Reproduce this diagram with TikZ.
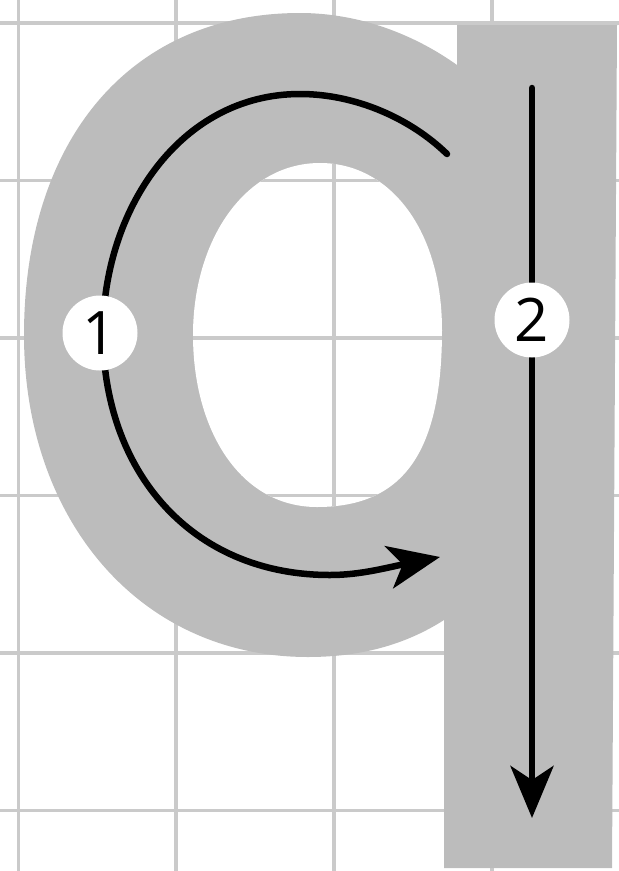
\documentclass[tikz,border=0pt]{standalone}
\usepackage{fontspec}
\setmainfont{Open Sans}
\usetikzlibrary{arrows.meta}
\definecolor{lettergray}{RGB}{188,188,188}
\definecolor{gridgray}{RGB}{202,202,202}
\begin{document}
\begin{tikzpicture}[x=1pt,y=-1pt,
  gridline/.style={draw=gridgray, line width=3.5pt},
  strokeline/.style={line width=6.5pt, black, line cap=round},
  num/.style={circle, fill=white, minimum size=75pt, inner sep=0pt, font=\fontsize{60}{60}\selectfont},
  tipped/.style={-{Stealth[length=52pt,width=43pt,inset=14pt]}}]
\useasboundingbox (0,0) rectangle (619,871);
% grid
\foreach \gx in {18.5,176,334,492} \draw[gridline] (\gx,0) -- (\gx,871);
\foreach \gy in {23,180.5,338,495.5,653,810.5} \draw[gridline] (0,\gy) -- (619,\gy);
% letter q
\fill[lettergray] (457,25) -- (617,25) -- (612,868) -- (444,868) -- (444,620)
  .. controls (405,645) and (360,657) .. (308,657)
  .. controls (140,657) and (24,520) .. (24,335)
  .. controls (24,140) and (130,13) .. (300,13)
  .. controls (360,13) and (415,35) .. (457,65) -- cycle;
\fill[white] (320,163) .. controls (390,163) and (442,230) .. (442,330)
  .. controls (442,450) and (405,507) .. (317,507)
  .. controls (240,507) and (193,430) .. (193,335)
  .. controls (193,240) and (245,163) .. (320,163) -- cycle;
\begin{scope}
\clip (320,163) .. controls (390,163) and (442,230) .. (442,330)
  .. controls (442,450) and (405,507) .. (317,507)
  .. controls (240,507) and (193,430) .. (193,335)
  .. controls (193,240) and (245,163) .. (320,163) -- cycle;
\foreach \gx in {18.5,176,334,492} \draw[gridline] (\gx,0) -- (\gx,871);
\foreach \gy in {23,180.5,338,495.5,653,810.5} \draw[gridline] (0,\gy) -- (619,\gy);
\end{scope}
% stroke 1
\coordinate (s1) at (447,154);
\coordinate (c1) at (103,333);
\coordinate (t1) at (440,557);
\draw[strokeline, tipped] (s1) .. controls (410,118) and (355,94) .. (300,94)
  .. controls (180,94) and (103,210) .. (c1)
  .. controls (103,470) and (190,575) .. (330,575)
  .. controls (360,575) and (385,568) .. (t1);
% stroke 2
\coordinate (s2) at (532,88);
\coordinate (t2) at (532,818);
\draw[strokeline, tipped] (s2) -- (t2);
% numbers
\node[num] (n1) at (100,333) {1};
\node[num] (n2) at (532,320) {2};
\end{tikzpicture}
\end{document}
